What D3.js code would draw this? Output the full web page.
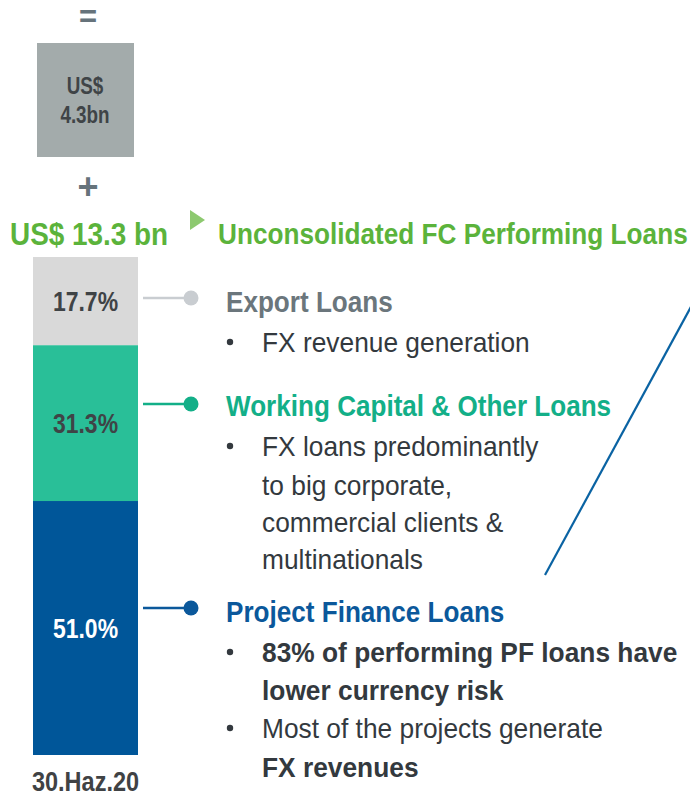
<!DOCTYPE html>
<html>
<head>
<meta charset="utf-8">
<script src="https://cdn.jsdelivr.net/npm/d3@7/dist/d3.min.js"></script>
<style>
  html, body { margin: 0; padding: 0; background: #fff; }
  svg { display: block; }
  text { font-family: "Liberation Sans", Arial, sans-serif; }
</style>
</head>
<body>
<svg id="chart" width="690" height="795"></svg>
<script>
// Loan composition at period end (share of FC performing loans, %)
const categories = ["Project Finance Loans", "Working Capital & Other Loans", "Export Loans"];
const shares = [51.0, 31.3, 17.7];
const segmentColors = ["#005699", "#29bf98", "#d9d9d9"];
const labelColors = ["#ffffff", "#3f4346", "#3f4346"];
const headingColors = ["#0b589b", "#13af88", "#6b767c"];
const connectorColors = ["#0b589b", "#13af88", "#c9cdd1"];
const periodLabel = "30.Haz.20";
const totalLabel = "US$ 13.3 bn";
const titleLabel = "Unconsolidated FC Performing Loans";
const otherAmount = ["US$", "4.3bn"];

// bullet lines per category: each line is [text, isBold, startsBullet]
const notes = {
  "Export Loans": [["FX revenue generation", false, true]],
  "Working Capital & Other Loans": [
    ["FX loans predominantly", false, true],
    ["to big corporate,", false, false],
    ["commercial clients &", false, false],
    ["multinationals", false, false]
  ],
  "Project Finance Loans": [
    ["83% of performing PF loans have", true, true],
    ["lower currency risk", true, false],
    ["Most of the projects generate", false, true],
    ["FX revenues", true, false]
  ]
};

const svg = d3.select("#chart");

// condensed text: glyphs squeezed horizontally around the anchor point
function label(x, y, str, o) {
  return svg.append("text")
    .attr("transform", `translate(${x},${y}) scale(${o.sx},1)`)
    .attr("text-anchor", o.anchor || "start")
    .attr("font-size", o.size)
    .attr("font-weight", o.bold ? "bold" : "normal")
    .attr("fill", o.fill)
    .text(str);
}

// bar geometry
const barX = 33, barW = 105, barTop = 257, barBottom = 755;
const y = d3.scaleLinear().domain([0, d3.sum(shares)]).range([barBottom, barTop]);

const stackData = [Object.fromEntries(categories.map((c, i) => [c, shares[i]]))];
const series = d3.stack().keys(categories)(stackData);

svg.append("g").selectAll("rect").data(series).join("rect")
  .attr("x", barX)
  .attr("width", barW)
  .attr("y", d => y(d[0][1]))
  .attr("height", d => y(d[0][0]) - y(d[0][1]))
  .attr("fill", (d, i) => segmentColors[i]);

series.forEach((d, i) => {
  label(barX + barW / 2, (y(d[0][0]) + y(d[0][1])) / 2 + 10, shares[i].toFixed(1) + "%",
    { size: 28, bold: true, fill: labelColors[i], anchor: "middle", sx: 0.82 });
});

// period label under the bar
label(barX + barW / 2, 791, periodLabel, { size: 27, bold: true, fill: "#404244", anchor: "middle", sx: 0.87 });

// "=" sign, the other FX amount box, and "+" sign
label(88, 27, "=", { size: 31, bold: true, fill: "#66737b", anchor: "middle", sx: 1 });
svg.append("rect").attr("x", 37).attr("y", 43).attr("width", 97).attr("height", 114).attr("fill", "#a3abab");
label(85, 94, otherAmount[0], { size: 23, bold: true, fill: "#3f4447", anchor: "middle", sx: 0.82 });
label(85, 123, otherAmount[1], { size: 23, bold: true, fill: "#3f4447", anchor: "middle", sx: 0.82 });
label(88, 199, "+", { size: 36, bold: true, fill: "#66737b", anchor: "middle", sx: 1 });

// total and title
label(10, 245, totalLabel, { size: 31, bold: true, fill: "#5bb33b", sx: 0.9 });
svg.append("path").attr("d", "M190,210 L205,220 L190,230 Z").attr("fill", "#8dc96f");
label(218, 244, titleLabel, { size: 30, bold: true, fill: "#5bb33b", sx: 0.873 });

// connectors and descriptions
const layout = {
  "Export Loans": { cy: 298, head: 312, lines: [352] },
  "Working Capital & Other Loans": { cy: 404, head: 416, lines: [456, 495, 532, 569] },
  "Project Finance Loans": { cy: 608, head: 622, lines: [662, 700, 738, 777] }
};

categories.forEach((c, i) => {
  const L = layout[c];
  svg.append("line").attr("x1", 143).attr("x2", 191).attr("y1", L.cy).attr("y2", L.cy)
    .attr("stroke", connectorColors[i]).attr("stroke-width", 2.5);
  svg.append("circle").attr("cx", 191).attr("cy", L.cy).attr("r", 7.5).attr("fill", connectorColors[i]);
  label(226, L.head, c, { size: 29, bold: true, fill: headingColors[i], sx: 0.9 });
  notes[c].forEach((ln, k) => {
    if (ln[2]) {
      svg.append("circle").attr("cx", 230).attr("cy", L.lines[k] - 10).attr("r", 3.2).attr("fill", "#33393e");
    }
    label(262, L.lines[k], ln[0], { size: 27, bold: ln[1], fill: "#33393e", sx: 0.975 });
  });
});

// pointer line toward the right-hand panel
svg.append("line").attr("x1", 545).attr("y1", 575).attr("x2", 692).attr("y2", 305)
  .attr("stroke", "#0a63a3").attr("stroke-width", 2.2);
</script>
</body>
</html>
